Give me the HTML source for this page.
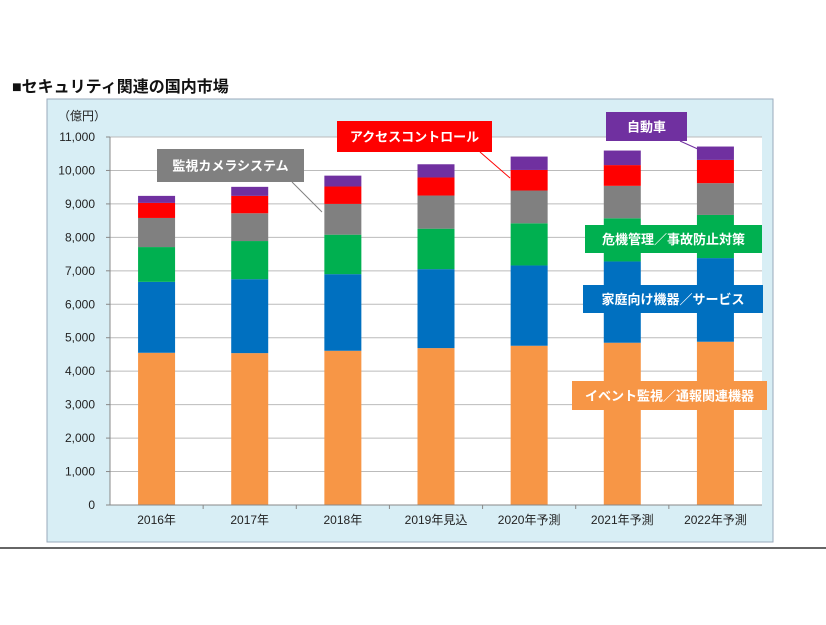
<!DOCTYPE html>
<html><head><meta charset="utf-8"><style>
body{margin:0;background:#fff;width:826px;height:620px;overflow:hidden;font-family:"Liberation Sans","Noto Sans CJK JP",sans-serif}
</style></head><body>
<svg id="c" width="826" height="620" xmlns="http://www.w3.org/2000/svg" font-family="Liberation Sans, Noto Sans CJK JP, sans-serif">
<text x="12" y="92" font-size="16" font-weight="bold" fill="#111">■セキュリティ関連の国内市場</text>
<rect x="47" y="99" width="726" height="443" fill="#d8eef5" stroke="#9ab" stroke-width="1"/>
<rect x="110" y="137" width="652" height="368" fill="#fff"/>
<text x="58" y="120" font-size="12" fill="#222">（億円）</text>
<line x1="0" y1="548" x2="826" y2="548" stroke="#333" stroke-width="1.5"/>
<g id="grid"></g><g id="bars"></g><g id="ticks"></g>
</svg>
<script>
const categories=["2016年","2017年","2018年","2019年見込","2020年予測","2021年予測","2022年予測"];
const eventMonitoring=[4550,4540,4610,4690,4760,4850,4880];
const homeDevices=[2120,2210,2290,2360,2400,2430,2500];
const crisisMgmt=[1040,1140,1180,1210,1260,1290,1290];
const cameras=[870,830,920,990,980,970,950];
const accessControl=[450,520,520,540,615,620,695];
const automotive=[210,270,325,395,400,435,400];
const yTicks=[0,1000,2000,3000,4000,5000,6000,7000,8000,9000,10000,11000];
const seriesNames=["event-monitoring","home-devices","crisis-management","surveillance-cameras","access-control","automotive"];
const colors=["#f79646","#0070c0","#00b050","#808080","#ff0000","#7030a0"];
const NS="http://www.w3.org/2000/svg";
const X0=110,X1=762,Y0=505,YT=137,YMAX=11000;
const y=v=>Y0-(v/YMAX)*(Y0-YT);
const band=(X1-X0)/categories.length;
const xc=i=>X0+band*(i+0.5);
function mk(t,a,p){const e=document.createElementNS(NS,t);for(const k in a)e.setAttribute(k,a[k]);p.appendChild(e);return e;}
const grid=document.getElementById('grid'),ticks=document.getElementById('ticks'),bars=document.getElementById('bars');
yTicks.forEach(v=>{
  if(v>0){const l=mk('line',{x1:X0,x2:X1,y1:y(v),y2:y(v),stroke:'#bbb','stroke-width':1},grid);
  
  }
  const t=mk('text',{x:95,y:y(v)+4,'text-anchor':'end','font-size':12,fill:'#222'},ticks);
  t.textContent=v.toLocaleString('en-US');
  
  
  const tm=mk('line',{x1:X0-4,x2:X0,y1:y(v),y2:y(v),stroke:'#888'},ticks);
  
  
});
mk('line',{x1:X0,x2:X0,y1:YT,y2:Y0,stroke:'#888'},ticks);
mk('line',{x1:X0,x2:X1,y1:Y0,y2:Y0,stroke:'#888'},ticks);
const series=[eventMonitoring,homeDevices,crisisMgmt,cameras,accessControl,automotive];
categories.forEach((c,i)=>{
  let cum=0;
  series.forEach((s,k)=>{
    const r=mk('rect',{x:xc(i)-18.5,width:37,y:y(cum+s[i]),height:y(cum)-y(cum+s[i]),fill:colors[k]},bars);
    
    
    cum+=s[i];
  });
  const t=mk('text',{x:xc(i),y:524,'text-anchor':'middle','font-size':12,fill:'#222'},ticks);
  t.textContent=c;
  
  
  if(i>0){const tm=mk('line',{x1:X0+band*i,x2:X0+band*i,y1:Y0,y2:Y0+4,stroke:'#888'},ticks);
  
  }
});
const svg=document.getElementById('c');
function label(txt,x,yy,w,h,col,name,lx1,ly1,lx2,ly2){
  if(lx1!==undefined){const l=mk('line',{x1:lx1,y1:ly1,x2:lx2,y2:ly2,stroke:col,'stroke-width':1},svg);
  
  }
  const g=mk('g',{},svg);
  
  
  mk('rect',{x:x,y:yy,width:w,height:h,fill:col},g);
  const t=mk('text',{x:x+w/2,y:yy+h/2+5,'text-anchor':'middle','font-size':13,'font-weight':'bold',fill:'#fff'},g);
  t.textContent=txt;
}
label('監視カメラシステム',157,149,147,33,'#808080','label-surveillance-cameras',292,182,322,212);
label('アクセスコントロール',337,121,155,31,'#ff0000','label-access-control',480,152,510,178);
label('自動車',606,112,81,29,'#7030a0','label-automotive',680,141,700,150);
label('危機管理／事故防止対策',585,225,177,28,'#00b050','label-crisis-management');
label('家庭向け機器／サービス',583,285,180,28,'#0070c0','label-home-devices');
label('イベント監視／通報関連機器',572,381,195,29,'#f79646','label-event-monitoring');
</script>
</body></html>
